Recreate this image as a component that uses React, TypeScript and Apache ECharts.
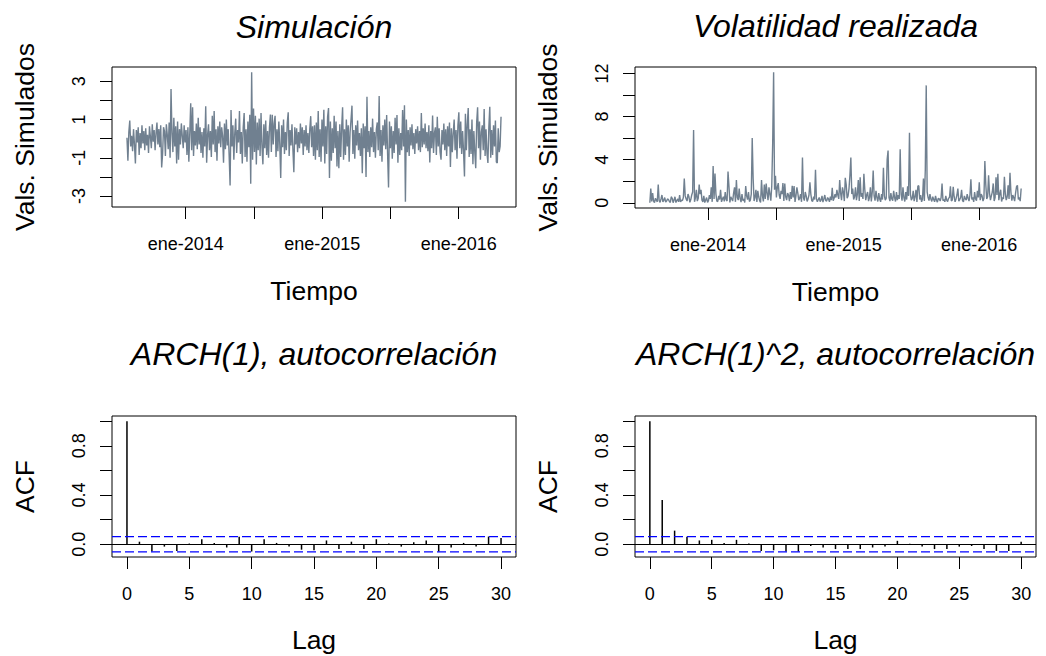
import React, { useEffect, useRef } from "react";
import * as echarts from "echarts";

// Serie ARCH(1) simulada (valores diarios muestreados a lo largo del periodo)
const simulados: number[] = [
  0.05, -1.15, 0.35, 0.95, -0.4, 0.15, -0.65, 0.5, -0.3, -1.3, 0.45, -0.2, 0.6, -0.85, 0.3, -0.5, 0.7, -0.25, 0.4, -0.6,
  0.55, -0.35, 0.2, -0.75, 0.65, 0.1, -0.5, 0.75, -0.15, 0.45, -0.6, 0.3, 0.85, -0.3, 0.5, -0.45, 0.7, -1.5, -0.8, 0.6,
  0.4, -0.9, 0.75, 0.2, -0.55, 0.85, -1.0, 2.6, 0.3, -0.7, 1.1, -0.4, 0.65, -1.3, 0.9, -1.1, 0.5, -0.3, 0.8, 0.15,
  -0.5, 0.7, -0.2, 0.45, -0.85, 0.6, -1.2, 0.3, 1.85, -0.6, 1.65, -0.9, 0.4, -0.35, 0.8, -0.55, 1.1, -0.3, 0.6, -0.75,
  0.35, -1.0, 0.55, -0.4, 1.7, -1.25, 0.2, 0.75, -0.6, 0.4, -0.95, 1.2, -0.3, 1.45, -0.7, 0.5, -1.15, 0.65, -0.25, 0.9,
  -0.45, 0.6, 0.15, -1.25, 0.8, -0.55, 1.0, -0.35, 0.5, -0.9, -2.45, 1.5, -0.4, 0.7, -1.1, 0.3, 1.05, -0.75, 0.45, -0.2,
  1.45, -0.8, 0.35, -1.3, 0.6, 1.34, -0.95, 0.5, -1.2, 0.9, -0.45, 1.25, -2.35, 3.48, -1.1, 1.58, -0.7, 1.2, -1.35, 0.85,
  -0.6, 1.05, -0.9, 1.35, -0.4, -1.34, 0.75, -0.5, 0.95, -0.85, 0.4, -1.0, 0.6, 1.26, -0.7, 1.25, -0.3, 0.8, 1.2, -0.95,
  0.5, -0.65, 0.9, -0.3, -2.05, 0.7, -0.45, 1.0, -0.8, 0.35, -0.6, 0.85, 1.38, -0.9, 0.45, -0.35, 0.75, -0.55, -1.75, 0.6,
  -0.3, 0.55, -0.7, 0.35, -0.5, 0.8, -0.25, 0.6, -0.85, 0.45, -0.4, 0.7, -0.6, 0.3, -0.75, 0.5, 1.18, -0.45, 0.65, -0.9,
  0.7, -1.1, 0.85, -0.6, 1.45, -0.95, 0.5, -1.2, 1.0, -0.4, 1.52, -1.3, 0.65, -0.8, 1.15, 1.6, -2.05, 0.9, -1.15, 0.55,
  -0.75, 1.2, -0.5, 0.9, -1.45, 0.4, -1.54, 0.75, -0.95, 0.6, 1.64, -1.1, 0.5, -0.85, 1.0, -0.4, 0.7, -1.2, 0.35, 1.0,
  1.73, -0.8, 0.45, -1.05, 0.7, -0.35, 0.95, -0.6, 0.3, -0.9, 0.55, -1.8, 0.8, -0.5, 0.65, -2.0, 2.2, -0.7, 0.4, -0.95,
  0.6, -0.45, 1.05, -0.7, 0.35, -1.0, 0.5, 0.85, -0.6, 2.23, -0.9, 0.45, -1.2, 0.7, -0.35, 1.0, -0.55, 1.24, -0.8, -2.55,
  0.9, -0.5, 0.65, -1.05, 0.4, -0.75, 1.1, -0.3, 1.24, -1.26, 0.55, -0.85, 0.3, -0.6, 1.5, -0.4, 1.75, -3.3, 1.0, -0.7,
  0.45, -0.9, 0.6, -0.35, 0.75, -0.55, 0.3, -0.8, 0.5, -0.25, 0.65, -0.6, 0.4, -0.7, 1.34, -0.45, 0.55, -0.3, 0.8, -0.5,
  0.35, -0.65, 0.7, -1.24, 0.4, -0.5, 1.22, -0.75, 0.3, 0.6, -0.85, 1.15, -0.4, 0.55, -0.7, -1.1, 0.45, -0.3, 0.8, -0.6,
  0.5, -0.9, 0.65, -0.4, 0.85, -1.48, 0.55, -0.7, 0.3, 1.0, -0.6, 0.45, -1.05, 0.7, 1.38, -0.5, 0.9, -0.8, 0.4, -0.65,
  -1.97, 1.3, -0.6, 0.75, 1.6, -0.95, 0.5, -0.8, 1.0, -1.34, 0.4, -0.7, -1.54, 0.85, 1.64, -0.5, 0.9, -1.1, 0.35, 0.7,
  -0.6, 1.55, -0.9, 0.5, -0.75, -1.27, 0.6, 1.67, -1.0, 0.45, -0.85, 0.7, -0.4, 0.95, -1.22, -1.27, 0.55, -0.7, -0.4, 1.15,
];

// Volatilidad realizada: cuadrado de cada rendimiento simulado
const volatilidad: number[] = simulados.map((v) => v * v);

// Periodo cubierto por la simulación, en años decimales
const inicioSerie = 2013.57;
const finSerie = 2016.31;

// Autocorrelaciones (retardos 0..30)
const retardos: number[] = [
  0, 1, 2, 3, 4, 5, 6, 7, 8, 9, 10, 11, 12, 13, 14, 15, 16, 17, 18, 19, 20, 21, 22, 23, 24, 25, 26, 27, 28, 29, 30,
];
const acfArch: number[] = [
  1, 0.02, -0.06, -0.02, -0.055, 0.005, 0.04, 0.01, -0.027, 0.06, -0.06, 0.04, 0.01, -0.02, -0.045, -0.05,
  0.03, -0.04, 0.02, -0.04, 0.04, 0.005, -0.02, 0.015, 0.03, -0.06, -0.027, 0.01, -0.02, 0.062, 0.05,
];
const acfArch2: number[] = [
  1, 0.36, 0.11, 0.06, 0.03, 0.035, 0.01, 0.035, 0.005, -0.055, -0.05, -0.06, -0.06, -0.015, -0.027, -0.04,
  -0.04, -0.04, -0.027, -0.02, 0.027, 0.003, -0.02, -0.04, -0.04, -0.02, -0.015, -0.04, -0.055, -0.055, 0.02,
];
// Banda de confianza al 95% para n = 1000 observaciones
const bandaConfianza = 0.062;

// Marcas de los ejes
const aniosEtiqueta: number[] = [2014, 2015, 2016];
const marcasTiempo: number[] = [2014, 2014.5, 2015, 2015.5, 2016];
const marcasSim: number[] = [-3, -2, -1, 0, 1, 2, 3];
const etiquetasSim: number[] = [-3, -1, 1, 3];
const marcasVol: number[] = [0, 2, 4, 6, 8, 10, 12];
const etiquetasVol: number[] = [0, 4, 8, 12];
const marcasAcf: number[] = [0, 0.2, 0.4, 0.6, 0.8, 1.0];
const etiquetasAcf: number[] = [0, 0.4, 0.8];
const marcasLag: number[] = [0, 5, 10, 15, 20, 25, 30];

const FUENTE = "'Liberation Sans', Arial, Helvetica, sans-serif";
const GRIS = "#708090";
const AZUL = "#0000FF";

// Rango extendido un 4% por cada lado
function rango(vals: number[]): [number, number] {
  const lo = Math.min(...vals);
  const hi = Math.max(...vals);
  const d = (hi - lo) * 0.04;
  return [lo - d, hi + d];
}

function ejeX(grid: number, min: number, max: number, ticks: number[], labels: number[], fmt: (v: number) => string, name: string, nameGap: number) {
  return {
    type: "value",
    gridIndex: grid,
    min,
    max,
    axisLine: { show: false, onZero: false },
    splitLine: { show: false },
    axisTick: { show: true, length: 12, customValues: ticks, lineStyle: { color: "#000", width: 1 } },
    axisLabel: { customValues: labels, formatter: fmt, color: "#000", fontSize: 18, fontFamily: FUENTE, margin: 28 },
    name,
    nameLocation: "middle",
    nameGap,
    nameTextStyle: { color: "#000", fontSize: 26.5, fontFamily: FUENTE },
  };
}

function ejeY(grid: number, min: number, max: number, ticks: number[], labels: number[], fmt: (v: number) => string, name: string) {
  return {
    type: "value",
    gridIndex: grid,
    min,
    max,
    axisLine: { show: false, onZero: false },
    splitLine: { show: false },
    axisTick: { show: true, length: 12, customValues: ticks, lineStyle: { color: "#000", width: 1 } },
    axisLabel: { customValues: labels, formatter: fmt, rotate: 90, color: "#000", fontSize: 18, fontFamily: FUENTE, margin: 24 },
    name,
    nameLocation: "middle",
    nameGap: 74,
    nameTextStyle: { color: "#000", fontSize: 26.5, fontFamily: FUENTE },
  };
}

function titulo(text: string, x: number, top: number) {
  return {
    text,
    left: x,
    top,
    padding: 0,
    textAlign: "center",
    textStyle: { color: "#000", fontSize: 32, fontStyle: "italic", fontWeight: "normal", fontFamily: FUENTE },
  };
}

// Barras verticales del correlograma con su línea de cero
function correlograma(eje: number, valores: number[]) {
  return {
    type: "bar",
    xAxisIndex: eje,
    yAxisIndex: eje,
    barWidth: 1.5,
    itemStyle: { color: "#000" },
    data: valores.map((v, i) => [retardos[i], v]),
    markLine: {
      silent: true,
      symbol: ["none", "none"],
      label: { show: false },
      emphasis: { disabled: true },
      lineStyle: { color: "#000", type: "solid", width: 1 },
      data: [{ yAxis: 0 }],
    },
  };
}

// Límite de confianza discontinuo en azul, de borde a borde del panel
function limite(eje: number, nivel: number, desde: number, hasta: number) {
  return {
    type: "line",
    xAxisIndex: eje,
    yAxisIndex: eje,
    showSymbol: false,
    silent: true,
    z: 3,
    color: AZUL,
    lineStyle: { color: AZUL, type: [9, 4], width: 1.3 },
    data: [
      [desde, nivel],
      [hasta, nivel],
    ],
  };
}

export default function App() {
  const ref = useRef<HTMLDivElement>(null);

  useEffect(() => {
    if (!ref.current) return;
    const chart = echarts.init(ref.current, null, { renderer: "svg" });

    const n = simulados.length;
    const paso = (finSerie - inicioSerie) / (n - 1);
    const tiempo = simulados.map((_, i) => inicioSerie + i * paso);
    const [t0, t1] = rango(tiempo);
    const [s0, s1] = rango(simulados);
    const [v0, v1] = rango(volatilidad);
    const [a0, a1] = rango([-bandaConfianza, bandaConfianza, ...acfArch, ...acfArch2]);
    const [l0, l1] = rango(retardos);

    const fmtAnio = (v: number) => "ene-" + Math.round(v);
    const fmtEntero = (v: number) => String(v);
    const fmtDec = (v: number) => v.toFixed(1);

    const borde = { show: true, borderColor: "#000", borderWidth: 1, backgroundColor: "transparent" };

    chart.setOption({
      animation: false,
      backgroundColor: "#fff",
      title: [
        titulo("Simulación", 314, 11),
        titulo("Volatilidad realizada", 835.5, 10),
        titulo("ARCH(1), autocorrelación", 314, 338),
        titulo("ARCH(1)^2, autocorrelación", 835.5, 338),
      ],
      grid: [
        { left: 112, top: 67, width: 404, height: 140, ...borde },
        { left: 635, top: 67, width: 401, height: 141, ...borde },
        { left: 112, top: 416, width: 404, height: 141, ...borde },
        { left: 635, top: 416, width: 401, height: 141, ...borde },
      ],
      xAxis: [
        ejeX(0, t0, t1, marcasTiempo, aniosEtiqueta, fmtAnio, "Tiempo", 70),
        ejeX(1, t0, t1, marcasTiempo, aniosEtiqueta, fmtAnio, "Tiempo", 70),
        ejeX(2, l0, l1, marcasLag, marcasLag, fmtEntero, "Lag", 69),
        ejeX(3, l0, l1, marcasLag, marcasLag, fmtEntero, "Lag", 69),
      ],
      yAxis: [
        ejeY(0, s0, s1, marcasSim, etiquetasSim, fmtEntero, "Vals. Simulados"),
        ejeY(1, v0, v1, marcasVol, etiquetasVol, fmtEntero, "Vals. Simulados"),
        ejeY(2, a0, a1, marcasAcf, etiquetasAcf, fmtDec, "ACF"),
        ejeY(3, a0, a1, marcasAcf, etiquetasAcf, fmtDec, "ACF"),
      ],
      series: [
        {
          type: "line",
          xAxisIndex: 0,
          yAxisIndex: 0,
          showSymbol: false,
          lineStyle: { color: GRIS, width: 1.4 },
          data: simulados.map((v, i) => [tiempo[i], v]),
        },
        {
          type: "line",
          xAxisIndex: 1,
          yAxisIndex: 1,
          showSymbol: false,
          lineStyle: { color: GRIS, width: 1.4 },
          data: volatilidad.map((v, i) => [tiempo[i], v]),
        },
        correlograma(2, acfArch),
        correlograma(3, acfArch2),
        limite(2, bandaConfianza, l0, l1),
        limite(2, -bandaConfianza, l0, l1),
        limite(3, bandaConfianza, l0, l1),
        limite(3, -bandaConfianza, l0, l1),
      ],
    });

    return () => chart.dispose();
  }, []);

  return (
    <div
      ref={ref}
      style={{ position: "fixed", left: 0, top: 0, width: 1046, height: 656, background: "#fff" }}
    />
  );
}
